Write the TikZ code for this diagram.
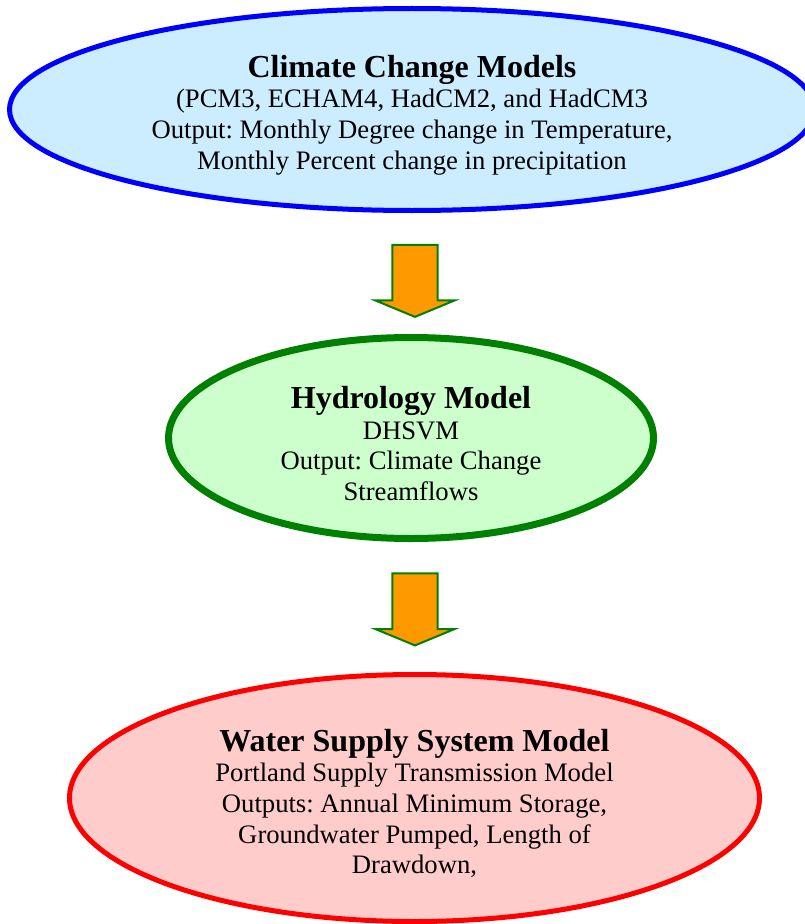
\documentclass[tikz,border=0pt]{standalone}
\usepackage{fontspec}
\setmainfont{Liberation Serif}
\usetikzlibrary{shapes.geometric, shapes.arrows, calc}

\definecolor{climatefill}{RGB}{204,236,255}
\definecolor{hydrofill}{RGB}{204,255,204}
\definecolor{supplyfill}{RGB}{255,204,204}
\definecolor{flowgreen}{RGB}{0,128,0}
\definecolor{floworange}{RGB}{255,153,0}

\newcommand{\modeltitle}[1]{{\fontsize{24}{27.6}\selectfont\bfseries\rule{0pt}{25pt}#1}}

\begin{document}
\begin{tikzpicture}[
    x=0.75pt, y=-0.75pt,
    model_block/.style={ellipse, inner sep=0pt, align=center, font=\fontsize{20}{23}\selectfont\frenchspacing},
    climate_block/.style={model_block, draw=blue, fill=climatefill, line width=3.75pt, minimum width=603.75pt, minimum height=151.5pt},
    hydro_block/.style={model_block, draw=flowgreen, fill=hydrofill, line width=5.25pt, minimum width=363.75pt, minimum height=150.75pt},
    supply_block/.style={model_block, draw=red, fill=supplyfill, line width=3.75pt, minimum width=517.5pt, minimum height=185.25pt},
    flow_arrow/.style={single arrow, draw=flowgreen, fill=floworange, line width=1.5pt, rotate=-90, single arrow head extend=12.7pt, single arrow tip angle=135, inner xsep=0pt, inner ysep=16.2pt, minimum height=54pt}
]
    \useasboundingbox (0,0) rectangle (804,924);

    % Model Chain
    \node[climate_block] (climate) at (412,109.5) {\modeltitle{Climate Change Models}\\ (PCM3, ECHAM4, HadCM2, and HadCM3\\ Output: Monthly Degree change in Temperature,\\ Monthly Percent change in precipitation};
    \node[hydro_block] (hydro) at (411,438) {\modeltitle{Hydrology Model}\\ DHSVM\\ Output: Climate Change\\ Streamflows};
    \node[supply_block] (supply) at (414.5,798) {\modeltitle{Water Supply System Model}\\ Portland Supply Transmission Model\\ Outputs: Annual Minimum Storage,\\ Groundwater Pumped, Length of\\ Drawdown,};

    % Flow Arrows
    \node[xshift=2.6pt, yshift=-2pt, flow_arrow] (arrow1) at ($(climate.south)!0.5!(hydro.north)$) {};
    \node[xshift=1.7pt, yshift=1.7pt, flow_arrow] (arrow2) at ($(hydro.south)!0.5!(supply.north)$) {};

\end{tikzpicture}
\end{document}
